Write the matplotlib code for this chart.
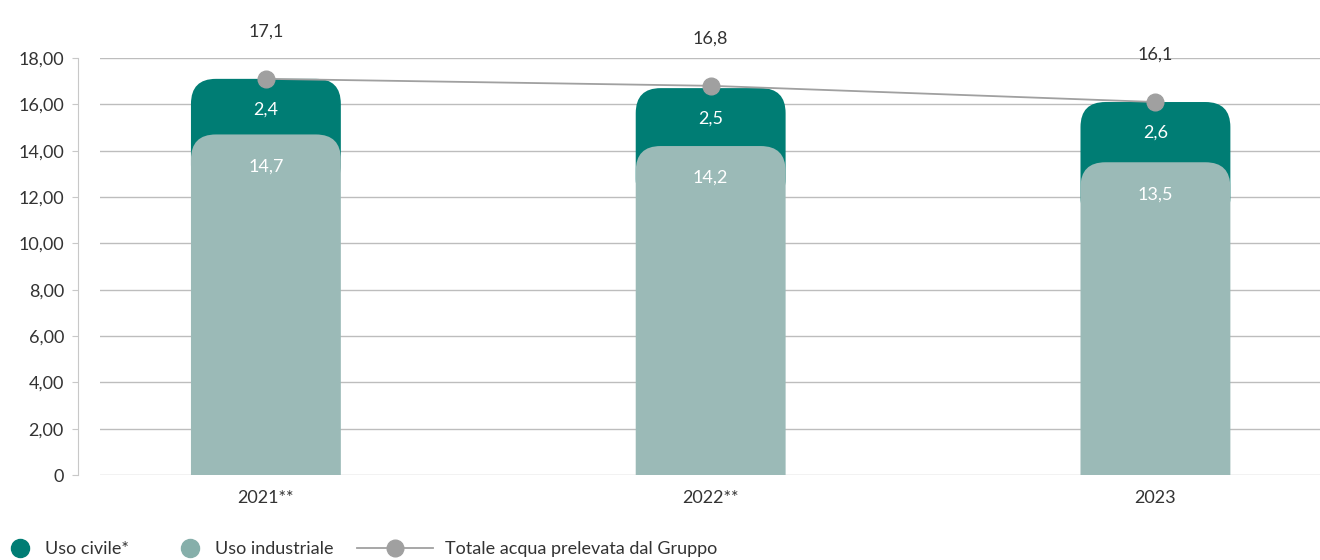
import matplotlib.pyplot as plt
from matplotlib.patches import FancyBboxPatch
from matplotlib.lines import Line2D

anni = ['2021**', '2022**', '2023']
uso_civile = [2.4, 2.5, 2.6]
uso_industriale = [14.7, 14.2, 13.5]
totale = [17.1, 16.8, 16.1]
y_ticks = [0, 2, 4, 6, 8, 10, 12, 14, 16, 18]

DARK = '#007d74'
LIGHT = '#9bbab7'
GREY = '#a0a0a0'
TXT = '#333333'

plt.rcParams['font.family'] = ['Lato', 'DejaVu Sans']


def fmt(v, dec):
    return f'{v:.{dec}f}'.replace('.', ',')


fig = plt.figure(figsize=(13.2, 5.6), dpi=100)
ax = fig.add_axes([100 / 1320, 85 / 560, 1220 / 1320, 417 / 560])

xs = list(range(len(anni)))
width = 0.337
r = 0.056           # rounding radius in x units
asp = 19.3          # y units per x unit for a circle-like corner

for x, civ, ind, tot in zip(xs, uso_civile, uso_industriale, totale):
    top = ind + civ
    dark = FancyBboxPatch((x - width / 2, ind - civ), width, top - (ind - civ),
                          boxstyle=f'round,pad=0,rounding_size={r}',
                          mutation_aspect=asp, fc=DARK, ec='none', zorder=2)
    light = FancyBboxPatch((x - width / 2, -3), width, ind + 3,
                           boxstyle=f'round,pad=0,rounding_size={r}',
                           mutation_aspect=asp, fc=LIGHT, ec='none', zorder=3)
    ax.add_patch(dark)
    ax.add_patch(light)
    ax.annotate(fmt(civ, 1), (x, top), xytext=(0, -22), textcoords='offset points',
                ha='center', va='center', color='white', fontsize=13, zorder=5)
    ax.annotate(fmt(ind, 1), (x, ind), xytext=(0, -23), textcoords='offset points',
                ha='center', va='center', color='white', fontsize=13, zorder=5)
    ax.annotate(fmt(tot, 1), (x, tot), xytext=(0, 34), textcoords='offset points',
                ha='center', va='center', color=TXT, fontsize=13, annotation_clip=False)

ax.plot(xs, totale, color=GREY, lw=1.3, marker='o', ms=12, mfc=GREY, mec=GREY,
        zorder=6, clip_on=False)

ax.set_xlim(-0.373, 2.37)
ax.set_ylim(0, 18)
ax.set_yticks(y_ticks)
ax.set_yticklabels(['0'] + [fmt(v, 2) for v in y_ticks[1:]])
ax.set_xticks(xs)
ax.set_xticklabels(anni)
ax.grid(axis='y', color='#bdbdbd', lw=1, zorder=0)
ax.set_axisbelow(True)

for s in ['top', 'right', 'bottom']:
    ax.spines[s].set_visible(False)
ax.spines['left'].set_position(('outward', 16))
ax.spines['left'].set_color('#c8c8c8')
ax.tick_params(axis='y', length=4, color='#c8c8c8', labelsize=13,
               labelcolor=TXT, pad=6)
ax.tick_params(axis='x', length=0, labelsize=13, labelcolor=TXT, pad=11)

# legend: three separate pieces so each handle keeps its own length
items = [
    (Line2D([], [], ls='none', marker='o', ms=13, mfc=DARK, mec=DARK),
     'Uso civile*', 11, 1.0, 0.9),
    (Line2D([], [], ls='none', marker='o', ms=13, mfc='#86afaa', mec='#86afaa'),
     'Uso industriale', 181, 1.0, 0.9),
    (Line2D([], [], color=GREY, lw=1.3, marker='o', ms=12, mfc=GREY, mec=GREY),
     'Totale acqua prelevata dal Gruppo', 357, 4.2, 0.7),
]
for h, lab, xpx, hl, tp in items:
    fig.legend([h], [lab], loc='center left', bbox_to_anchor=(xpx / 1320, 1 - 549 / 560),
               frameon=False, fontsize=13, handlelength=hl, handletextpad=tp,
               borderpad=0, borderaxespad=0, labelcolor=TXT)

fig.savefig('out.png', dpi=100)
